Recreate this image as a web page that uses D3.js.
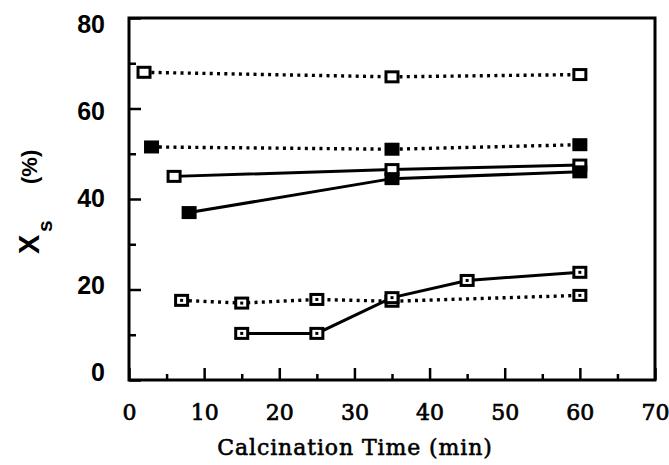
<!DOCTYPE html>
<html>
<head>
<script src="https://cdn.jsdelivr.net/npm/d3@7/dist/d3.min.js"></script>
<style>
  body { margin: 0; background: #fff; }
</style>
</head>
<body>
<svg id="chart" width="669" height="465"></svg>
<script>
// Data
var timesA = [2, 35, 60],  valuesA = [68, 67, 67.5];          // open, dotted
var timesB = [3, 35, 60],  valuesB = [51.5, 51, 52];          // filled, dotted
var timesC = [6, 35, 60],  valuesC = [45, 46.5, 47.5];        // open, solid
var timesD = [8, 35, 60],  valuesD = [37, 44.5, 46];          // filled, solid
var timesE = [7, 15, 25, 35, 60], valuesE = [17.6, 17, 17.8, 17.4, 18.7];   // dotted square, dotted
var timesF = [15, 25, 35, 45, 60], valuesF = [10.3, 10.3, 18.2, 22, 23.8];  // dotted square, solid

var xTicks = [0, 10, 20, 30, 40, 50, 60, 70];
var xMinor = [5, 15, 25, 35, 45, 55, 65];
var yTicks = [0, 20, 40, 60, 80];
var yMinor = [10, 30, 50, 70];

var series = [
  {t: timesA, v: valuesA, marker: "open",   line: "dot"},
  {t: timesB, v: valuesB, marker: "filled", line: "dot"},
  {t: timesC, v: valuesC, marker: "open",   line: "solid"},
  {t: timesD, v: valuesD, marker: "filled", line: "solid"},
  {t: timesE, v: valuesE, marker: "center", line: "dot"},
  {t: timesF, v: valuesF, marker: "center", line: "solid"}
];

var svg = d3.select("svg#chart");
var x = d3.scaleLinear().domain([0, 70]).range([129, 655]);
var y = d3.scaleLinear().domain([0, 80]).range([380, 18]);
// the scanned labels sit slightly inside the tick positions
var yLab = d3.scaleLinear().domain([0, 80]).range([372, 24]);

// frame
svg.append("rect").attr("x", x(0)).attr("y", y(80))
  .attr("width", x(70) - x(0)).attr("height", y(0) - y(80))
  .attr("fill", "none").attr("stroke", "#000").attr("stroke-width", 3);

// axes with inward ticks
var yAxis = d3.axisLeft(y).tickValues(yTicks).tickSizeInner(-12).tickSizeOuter(0).tickFormat("");
var yAxisMinor = d3.axisLeft(y).tickValues(yMinor).tickSizeInner(-7).tickSizeOuter(0).tickFormat("");
var yLabels = d3.axisLeft(yLab).tickValues(yTicks).tickSize(0).tickPadding(24);
var xAxis = d3.axisBottom(x).tickValues(xTicks).tickSizeInner(-12).tickSizeOuter(0).tickPadding(24);
var xAxisMinor = d3.axisBottom(x).tickValues(xMinor).tickSizeInner(-6).tickSizeOuter(0).tickFormat("");

svg.append("g").attr("transform", "translate(" + x(0) + ",0)").call(yAxis);
svg.append("g").attr("transform", "translate(" + x(0) + ",0)").call(yAxisMinor);
var gy = svg.append("g").attr("transform", "translate(" + x(0) + ",0)").call(yLabels);
var gx = svg.append("g").attr("transform", "translate(0," + y(0) + ")").call(xAxis);
svg.append("g").attr("transform", "translate(0," + y(0) + ")").call(xAxisMinor);

svg.selectAll(".domain").remove();
svg.selectAll(".tick line").attr("stroke", "#000").attr("stroke-width", 2.5);

gy.selectAll("text").style("font-family", "Liberation Sans, Arial, sans-serif")
  .style("font-size", "25px").style("font-weight", "bold").attr("fill", "#000");
// serif labels look heavier in the scan, so give them a thin outline
gx.selectAll("text").style("font-family", "DejaVu Serif, serif")
  .style("font-size", "22px").attr("fill", "#000")
  .attr("stroke", "#000").attr("stroke-width", 0.7);

// axis titles
svg.append("text").attr("x", 355).attr("y", 455)
  .attr("text-anchor", "middle").style("font-family", "DejaVu Serif, serif")
  .style("font-size", "22px").style("letter-spacing", "0.9px")
  .attr("stroke", "#000").attr("stroke-width", 0.6).text("Calcination Time (min)");

svg.append("text").attr("transform", "translate(39,254) rotate(-90)")
  .style("font-family", "Liberation Sans, Arial, sans-serif").style("font-size", "29px")
  .style("font-weight", "bold").text("X");
svg.append("text").attr("transform", "translate(52,232) rotate(-90)")
  .style("font-family", "Liberation Sans, Arial, sans-serif").style("font-size", "21px")
  .style("font-weight", "bold").text("s");
svg.append("text").attr("transform", "translate(37,184) rotate(-90)")
  .style("font-family", "Liberation Sans, Arial, sans-serif").style("font-size", "22px")
  .style("font-weight", "bold").text("(%)");

// lines
var line = d3.line().x(function(d) { return x(d[0]); }).y(function(d) { return y(d[1]); });
series.forEach(function(s) {
  var pts = s.t.map(function(t, i) { return [t, s.v[i]]; });
  svg.append("path").datum(pts).attr("d", line)
    .attr("fill", "none").attr("stroke", "#000")
    .attr("stroke-width", s.line == "dot" ? 3.4 : 3)
    .attr("stroke-dasharray", s.line == "dot" ? "3,4.3" : null);
});

// markers
series.forEach(function(s) {
  var pts = s.t.map(function(t, i) { return [t, s.v[i]]; });
  var g = svg.append("g");
  g.selectAll("rect").data(pts).enter().append("rect")
    .attr("x", function(d) { return x(d[0]) - 6; })
    .attr("y", function(d) { return y(d[1]) - 5; })
    .attr("width", 12).attr("height", 10)
    .attr("fill", s.marker == "filled" ? "#000" : "#fff")
    .attr("stroke", "#000").attr("stroke-width", 3);
  if (s.marker == "center") {
    g.selectAll(".dot").data(pts).enter().append("rect")
      .attr("class", "dot")
      .attr("x", function(d) { return x(d[0]) - 1.5; })
      .attr("y", function(d) { return y(d[1]) - 1.5; })
      .attr("width", 3).attr("height", 3).attr("fill", "#000");
  }
});
</script>
</body>
</html>
